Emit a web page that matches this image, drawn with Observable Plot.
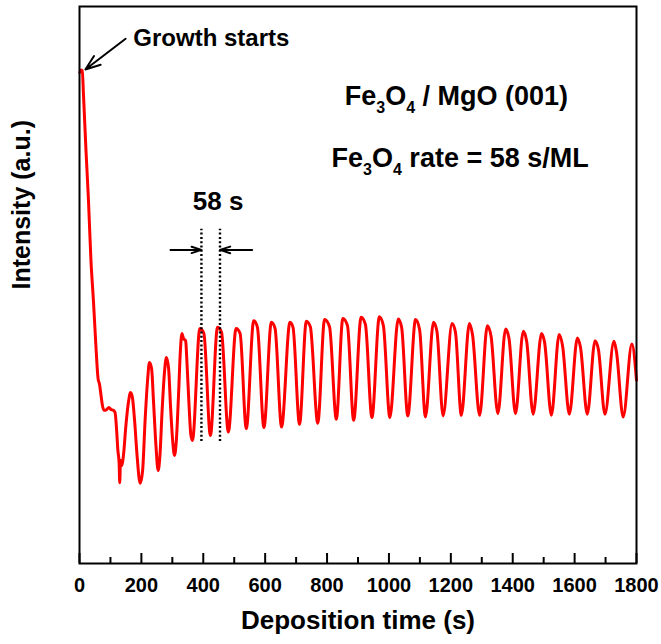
<!DOCTYPE html>
<html>
<head>
<meta charset="utf-8">
<script src="https://cdn.jsdelivr.net/npm/d3@7"></script>
<script src="https://cdn.jsdelivr.net/npm/@observablehq/plot@0.6"></script>
<style>
  html, body { margin: 0; padding: 0; background: #fff; }
</style>
</head>
<body>
<div id="chart"></div>
<script>
// Deposition time (s)
const times = [
  1, 5, 9, 13, 21, 29, 37, 45, 53, 60, 65, 69.5, 74, 79, 87, 95, 103, 110, 115, 120, 124, 128, 130, 132.5,
  137, 142, 150, 158, 165, 171, 178, 186, 196, 204, 212, 220, 226, 233, 239, 247, 254, 260, 267, 275, 281,
  288, 294, 301, 307, 313, 320, 326, 331, 336, 343, 347, 354, 360, 365,
  389, 402, 423, 446, 459, 481, 506, 519, 539, 563, 575, 596, 620, 632, 653, 680, 690, 711,
  733, 746, 770, 792, 808, 830, 851, 866, 886, 910, 924, 945, 969, 982, 1003,
  1030, 1041, 1061, 1086, 1099, 1118, 1144, 1155, 1175, 1204, 1215, 1234, 1260, 1270, 1293,
  1318, 1330, 1352, 1377, 1388, 1409, 1434, 1445, 1466, 1493, 1503, 1525, 1550, 1561, 1583,
  1609, 1619, 1641, 1666, 1677, 1698, 1727, 1735, 1757, 1785, 1800
];
// RHEED intensity (a.u.)
const intensity = [
  88.2, 88.6, 88.5, 84.0, 74.1, 65.2, 54.4, 47.2, 39.1, 33.2, 32.1, 30.2, 28.4, 27.5, 27.6, 28.0, 27.6, 27.5, 27.1, 23.9, 20.3, 18.1, 14.5, 18.5,
  17.6, 19.4, 24.8, 28.9, 30.7, 29.8, 25.7, 19.4, 14.4, 16.7, 25.7, 32.9, 36.1, 35.0, 29.3, 21.2, 16.7, 19.4, 27.5, 34.6, 37.0,
  35.0, 28.4, 22.1, 19.4, 22.1, 30.2, 38.2, 41.3, 40.4, 40.0, 36.4, 28.4, 23.0, 22.1,
  42.2, 41.3, 23.0, 42.4, 41.5, 23.6, 42.2, 41.3, 24.2, 43.6, 42.4, 24.4, 43.3, 42.2, 24.5, 43.3, 42.4, 25.0,
  43.5, 42.5, 25.2, 43.8, 42.5, 25.9, 44.0, 42.7, 25.7, 44.2, 42.9, 26.2, 44.3, 42.7, 26.2,
  43.9, 42.4, 26.5, 43.8, 42.0, 26.3, 43.3, 41.7, 26.5, 43.1, 41.5, 26.6, 43.1, 41.1, 26.6,
  42.7, 40.8, 26.9, 42.1, 40.4, 26.9, 41.7, 39.9, 26.8, 41.3, 39.7, 26.6, 41.1, 39.1, 26.8,
  40.5, 38.8, 26.8, 40.0, 38.4, 26.8, 39.9, 38.1, 26.3, 39.4, 32.9
];
const xMajorTicks = [0, 200, 400, 600, 800, 1000, 1200, 1400, 1600, 1800];
const xMinorTicks = [100, 300, 500, 700, 900, 1100, 1300, 1500, 1700];

// period markers (s) and their vertical extent (a.u.)
const periodMarkers = [394, 454];
const periodMarkerLow = 21.9;
const periodMarkerHigh = 60.0;
const periodArrows = [
  {t1: 294, t2: 394, v: 56.3},
  {t1: 558, t2: 454, v: 56.3}
];
const growthArrow = [{t1: 149, v1: 94.2, t2: 19, v2: 88.7}];

const growthLabel = [{text: "Growth starts", t: 174, v: 94.2}];
const sampleLabels = [
  {text: "Fe3O4 / MgO (001)", t: 1218, v: 83.9},
  {text: "Fe3O4 rate = 58 s/ML", t: 1230, v: 72.7}
];
const periodLabel = [{text: "58 s", t: 448, v: 65.0}];

const xTitle = ["Deposition time (s)"];
const yTitle = ["Intensity (a.u.)"];

const data = times.map((t, i) => ({t, v: intensity[i]}));

const font = "'Liberation Sans', Arial, Helvetica, sans-serif";

const chart = Plot.plot({
  width: 661,
  height: 644,
  marginTop: 6,
  marginRight: 25,
  marginBottom: 81,
  marginLeft: 79,
  style: {fontFamily: font, background: "#fff", color: "#000"},
  x: {domain: [0, 1800]},
  y: {domain: [0, 100], axis: null},
  marks: [
    Plot.line(data, {x: "t", y: "v", stroke: "#ff0000", strokeWidth: 3, curve: "monotone-x", strokeLinejoin: "round"}),
    Plot.ruleX(periodMarkers, {x: d => d, y1: periodMarkerLow, y2: periodMarkerHigh, stroke: "#000", strokeWidth: 2.4, strokeDasharray: "2,2.3"}),
    Plot.arrow(periodArrows, {x1: "t1", x2: "t2", y1: "v", y2: "v", stroke: "#000", strokeWidth: 2, headLength: 11, headAngle: 36}),
    Plot.arrow(growthArrow, {x1: "t1", y1: "v1", x2: "t2", y2: "v2", stroke: "#000", strokeWidth: 2, headLength: 12, headAngle: 40}),
    Plot.text(growthLabel, {x: "t", y: "v", text: "text", textAnchor: "start", fontSize: 24, fontWeight: "bold", fontFamily: font, fill: "#000"}),
    Plot.text(sampleLabels, {x: "t", y: "v", text: "text", fontSize: 27, fontWeight: "bold", fontFamily: font, fill: "#000"}),
    Plot.text(periodLabel, {x: "t", y: "v", text: "text", fontSize: 26, fontWeight: "bold", fontFamily: font, fill: "#000"}),
    Plot.ruleX(xMajorTicks, {x: d => d, insetTop: 547, stroke: "#000", strokeWidth: 2}),
    Plot.ruleX(xMinorTicks, {x: d => d, insetTop: 551, stroke: "#000", strokeWidth: 2}),
    Plot.axisX({ticks: xMajorTicks, tickSize: 0, tickPadding: 14, tickFormat: d => String(d), label: null, fontSize: 20, fontWeight: "bold", fontFamily: font, fill: "#000"}),
    Plot.text(xTitle, {text: d => d, frameAnchor: "bottom", dy: 65, fontSize: 26, fontWeight: "bold", fontFamily: font, fill: "#000"}),
    Plot.text(yTitle, {text: d => d, frameAnchor: "left", rotate: -90, dx: -58, dy: 4.5, fontSize: 25, fontWeight: "bold", fontFamily: font, fill: "#000"}),
    Plot.frame({stroke: "#000", strokeWidth: 2})
  ]
});

// Render the chemical-formula subscripts as real text
d3.select(chart).selectAll("text").each(function () {
  const s = this.textContent;
  if (!s.startsWith("Fe3O4")) return;
  const rest = s.slice(5);
  const sel = d3.select(this);
  sel.text(null);
  sel.append("tspan").text("Fe");
  sel.append("tspan").attr("font-size", 16).attr("dy", 8).text("3");
  sel.append("tspan").attr("dy", -8).text("O");
  sel.append("tspan").attr("font-size", 16).attr("dy", 8).text("4");
  sel.append("tspan").attr("dy", -8).text(rest);
});

document.getElementById("chart").appendChild(chart);
</script>
</body>
</html>
